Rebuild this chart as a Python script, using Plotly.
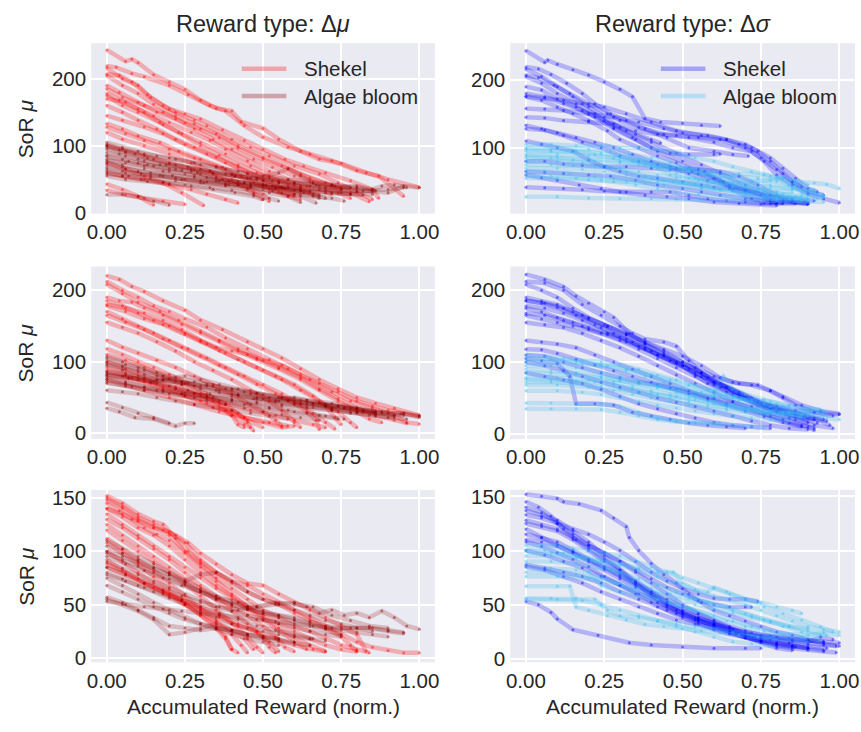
import plotly.graph_objects as go

# Each trajectory is a list of (accumulated reward (norm.), SoR mu) points.

# ---------- reward type: delta mu ----------
shekel_mu_r1 = [
    [(0,243),(0.06,226),(0.08,229),(0.1,224),(0.15,206),(0.2,195),(0.25,184),(0.3,168),(0.35,156),(0.4,152),(0.43,136),(0.5,126),(0.55,110),(0.62,92),(0.68,80),(0.75,74),(0.83,60),(0.9,50),(1.0,38)],
    [(0,219),(0.03,217),(0.08,208),(0.12,203),(0.2,190),(0.26,176),(0.33,160),(0.38,152),(0.44,130),(0.5,113),(0.58,98),(0.65,88),(0.72,78),(0.8,63),(0.87,55),(0.95,25)],
    [(0,216),(0.05,200),(0.1,190),(0.14,172),(0.2,155),(0.25,148),(0.3,140),(0.37,124),(0.44,108),(0.5,95),(0.57,80),(0.63,70),(0.7,60),(0.78,48),(0.85,35),(0.87,22)],
    [(0,207),(0.04,205),(0.08,195),(0.13,176),(0.18,160),(0.22,150),(0.28,138),(0.32,130),(0.4,110),(0.46,98),(0.52,85),(0.6,70),(0.68,58),(0.74,45),(0.8,32),(0.85,20)],
    [(0,205),(0.05,190),(0.1,178),(0.15,162),(0.22,145),(0.28,133),(0.35,118),(0.42,100),(0.5,83),(0.58,66),(0.65,52),(0.72,40),(0.78,30),(0.84,17)],
    [(0,190),(0.04,180),(0.1,165),(0.16,150),(0.22,140),(0.28,125),(0.34,110),(0.4,95),(0.47,80),(0.53,68),(0.6,55),(0.66,45),(0.74,30),(0.78,22)],
    [(0,185),(0.05,172),(0.12,160),(0.18,150),(0.25,134),(0.3,125),(0.36,112),(0.42,97),(0.5,80),(0.56,70),(0.62,58),(0.7,45),(0.75,35)],
    [(0,178),(0.04,168),(0.1,155),(0.15,145),(0.2,135),(0.27,120),(0.33,108),(0.38,95),(0.45,78),(0.52,62),(0.58,50),(0.64,40),(0.72,28)],
    [(0,175),(0.05,160),(0.1,150),(0.17,135),(0.23,120),(0.3,100),(0.36,86),(0.42,72),(0.48,60),(0.55,48),(0.62,38),(0.68,27)],
    [(0,170),(0.06,165),(0.12,150),(0.18,132),(0.24,118),(0.3,105),(0.38,88),(0.46,70),(0.52,55),(0.58,42),(0.65,30)],
    [(0,160),(0.05,150),(0.1,138),(0.16,125),(0.22,110),(0.28,98),(0.35,83),(0.42,68),(0.5,50),(0.56,38),(0.62,28)],
    [(0,145),(0.05,138),(0.12,128),(0.18,118),(0.25,102),(0.32,88),(0.38,75),(0.45,60),(0.5,48),(0.55,38),(0.6,28)],
    [(0,133),(0.05,125),(0.1,115),(0.17,105),(0.23,92),(0.3,80),(0.37,68),(0.43,55),(0.5,42),(0.55,32),(0.6,25)],
    [(0,128),(0.06,118),(0.12,108),(0.2,95),(0.28,82),(0.35,70),(0.4,58),(0.47,45),(0.52,35),(0.58,25),(0.62,20)],
    [(0,120),(0.05,110),(0.12,100),(0.2,88),(0.27,75),(0.33,62),(0.4,50),(0.45,38),(0.5,28),(0.52,17)],
    [(0,100),(0.06,92),(0.12,85),(0.2,75),(0.28,65),(0.35,55),(0.42,42),(0.47,30),(0.5,20)],
    [(0,75),(0.06,65),(0.12,55),(0.18,45),(0.24,30),(0.31,11)],
    [(0,60),(0.05,55),(0.12,50),(0.2,42),(0.27,35),(0.32,28),(0.38,20),(0.42,15)],
    [(0,43),(0.05,35),(0.1,25),(0.15,12)],
    [(0,34),(0.06,27),(0.12,22),(0.18,18),(0.25,13)],
]
algae_mu_r1 = [
    [(0,105),(0.05,98),(0.1,92),(0.16,85),(0.22,80),(0.3,72),(0.38,65),(0.45,58),(0.52,52),(0.6,45),(0.68,40),(0.75,35),(0.82,33),(0.9,30),(0.95,40),(1.0,38)],
    [(0,102),(0.05,95),(0.12,88),(0.2,82),(0.28,75),(0.35,68),(0.42,62),(0.5,55),(0.58,50),(0.65,47),(0.72,42),(0.8,38),(0.86,33)],
    [(0,98),(0.06,90),(0.13,82),(0.2,73),(0.27,66),(0.34,60),(0.41,55),(0.48,50),(0.55,45),(0.62,40),(0.68,35),(0.75,30),(0.82,27)],
    [(0,95),(0.04,88),(0.1,80),(0.17,72),(0.24,64),(0.3,58),(0.37,50),(0.44,45),(0.5,40),(0.57,37),(0.63,30),(0.68,22)],
    [(0,90),(0.06,85),(0.12,78),(0.19,72),(0.26,68),(0.33,63),(0.4,57),(0.46,52),(0.53,48),(0.6,45),(0.67,42),(0.73,40),(0.8,36),(0.85,32)],
    [(0,86),(0.05,80),(0.1,74),(0.15,70),(0.22,65),(0.29,60),(0.35,52),(0.42,47),(0.5,43),(0.56,38),(0.62,33),(0.68,25)],
    [(0,84),(0.07,77),(0.13,72),(0.2,66),(0.27,62),(0.34,58),(0.41,55),(0.48,52),(0.55,60),(0.58,66),(0.62,55),(0.66,45),(0.72,42),(0.78,38)],
    [(0,80),(0.05,72),(0.12,66),(0.18,62),(0.25,58),(0.32,53),(0.39,48),(0.46,44),(0.53,40),(0.6,34),(0.66,28),(0.7,22)],
    [(0,78),(0.06,75),(0.12,70),(0.2,62),(0.28,56),(0.35,48),(0.42,42),(0.5,35),(0.56,30),(0.62,25),(0.67,15)],
    [(0,75),(0.05,68),(0.1,62),(0.17,56),(0.24,50),(0.31,45),(0.38,40),(0.45,35),(0.52,30),(0.58,25),(0.62,16)],
    [(0,72),(0.06,66),(0.14,60),(0.21,56),(0.28,53),(0.36,48),(0.44,45),(0.51,42),(0.58,38),(0.65,33),(0.72,30),(0.78,28)],
    [(0,68),(0.05,62),(0.11,58),(0.18,55),(0.25,50),(0.32,46),(0.39,42),(0.46,38),(0.53,33),(0.6,28),(0.66,25),(0.72,22),(0.76,18)],
    [(0,65),(0.06,60),(0.14,56),(0.22,52),(0.3,48),(0.38,44),(0.46,40),(0.54,36),(0.62,33),(0.7,30),(0.78,28),(0.85,28)],
    [(0,62),(0.05,55),(0.11,50),(0.18,46),(0.25,42),(0.33,38),(0.4,34),(0.47,28),(0.52,22),(0.55,18)],
    [(0,58),(0.07,55),(0.14,52),(0.22,48),(0.3,45),(0.38,42),(0.46,40),(0.54,38),(0.62,36),(0.7,34),(0.8,32),(0.9,35),(0.95,38)],
    [(0,55),(0.06,50),(0.13,47),(0.2,44),(0.27,40),(0.34,35),(0.41,30),(0.47,25),(0.5,20)],
    [(0,27),(0.05,28),(0.1,24),(0.15,18),(0.2,12)],
    [(0,100),(0.04,94),(0.09,88),(0.15,80),(0.22,72),(0.3,65),(0.38,58),(0.45,52),(0.5,48),(0.55,45),(0.6,42),(0.65,40),(0.7,38),(0.75,38),(0.8,40),(0.85,35),(0.88,40),(0.92,42),(0.96,38)],
]

shekel_mu_r2 = [
    [(0,220),(0.04,215),(0.08,205),(0.12,198),(0.18,185),(0.25,172),(0.3,158),(0.37,145),(0.45,128),(0.5,118),(0.56,105),(0.62,90),(0.68,75),(0.74,62),(0.8,50),(0.86,42),(0.92,35),(1.0,25)],
    [(0,212),(0.05,200),(0.1,190),(0.15,178),(0.2,170),(0.25,160),(0.32,148),(0.38,133),(0.45,118),(0.52,103),(0.58,90),(0.65,75),(0.72,58),(0.78,45),(0.85,35),(0.92,25),(0.96,15),(1.0,13)],
    [(0,208),(0.05,195),(0.1,183),(0.17,170),(0.23,158),(0.3,143),(0.36,130),(0.42,118),(0.48,105),(0.55,92),(0.62,78),(0.68,62),(0.74,48),(0.8,35),(0.86,25),(0.92,18),(0.96,14)],
    [(0,190),(0.04,185),(0.08,183),(0.12,175),(0.18,165),(0.24,152),(0.3,140),(0.36,128),(0.42,115),(0.48,103),(0.55,90),(0.62,75),(0.68,60),(0.74,45),(0.8,30),(0.84,20),(0.88,15)],
    [(0,185),(0.05,178),(0.1,168),(0.15,158),(0.2,150),(0.25,140),(0.32,125),(0.38,112),(0.44,100),(0.5,88),(0.56,75),(0.62,60),(0.68,45),(0.74,30),(0.78,15),(0.8,8)],
    [(0,180),(0.06,175),(0.12,168),(0.18,158),(0.24,145),(0.3,130),(0.35,120),(0.4,115),(0.45,110),(0.5,102),(0.56,95),(0.62,82),(0.68,70),(0.74,58),(0.8,45),(0.85,38),(0.9,32),(0.95,28),(1.0,24)],
    [(0,178),(0.06,170),(0.12,160),(0.18,152),(0.25,138),(0.3,128),(0.36,115),(0.42,103),(0.48,92),(0.54,80),(0.6,68),(0.66,52),(0.7,38),(0.73,22),(0.75,12)],
    [(0,170),(0.05,160),(0.1,150),(0.15,140),(0.2,130),(0.26,118),(0.32,105),(0.38,92),(0.44,80),(0.5,68),(0.56,55),(0.62,40),(0.66,28),(0.7,15),(0.73,6)],
    [(0,165),(0.06,155),(0.12,145),(0.18,132),(0.24,120),(0.3,108),(0.36,95),(0.42,82),(0.48,68),(0.54,55),(0.6,42),(0.64,30),(0.67,18),(0.68,5)],
    [(0,155),(0.05,148),(0.1,140),(0.16,128),(0.22,115),(0.28,100),(0.34,88),(0.4,75),(0.46,60),(0.52,45),(0.56,32),(0.6,15),(0.62,8)],
    [(0,130),(0.05,120),(0.1,112),(0.16,102),(0.22,92),(0.28,80),(0.34,68),(0.4,55),(0.45,42),(0.5,30),(0.54,18),(0.56,10)],
    [(0,118),(0.05,110),(0.1,100),(0.15,92),(0.2,82),(0.26,70),(0.32,55),(0.38,40),(0.42,28),(0.45,15),(0.47,3)],
    [(0,110),(0.06,102),(0.12,92),(0.18,80),(0.24,68),(0.3,55),(0.36,40),(0.4,25),(0.42,12),(0.44,8)],
    [(0,100),(0.05,92),(0.1,85),(0.16,75),(0.22,65),(0.28,55),(0.34,45),(0.4,32),(0.45,18),(0.5,8)],
    [(0,92),(0.06,85),(0.12,75),(0.18,65),(0.24,55),(0.3,45),(0.36,35),(0.4,25),(0.44,12),(0.46,8)],
    [(0,88),(0.06,80),(0.12,72),(0.18,62),(0.25,52),(0.32,42),(0.38,32),(0.44,22),(0.5,15),(0.56,8),(0.6,10)],
    [(0,82),(0.07,76),(0.14,70),(0.22,62),(0.3,52),(0.38,42),(0.46,32),(0.54,25),(0.6,18),(0.66,12),(0.7,8)],
    [(0,75),(0.06,68),(0.12,60),(0.2,50),(0.28,40),(0.36,30),(0.44,22),(0.52,15),(0.58,10)],
]
algae_mu_r2 = [
    [(0,107),(0.05,100),(0.1,92),(0.16,85),(0.22,78),(0.28,72),(0.34,66),(0.4,60),(0.46,55),(0.52,50),(0.58,46),(0.64,42),(0.7,38),(0.76,35),(0.82,32),(0.88,30),(0.94,27),(1.0,24)],
    [(0,104),(0.06,96),(0.12,88),(0.18,80),(0.24,72),(0.3,66),(0.36,60),(0.42,54),(0.48,48),(0.54,44),(0.6,40),(0.66,36),(0.72,32),(0.78,28),(0.84,25),(0.9,22),(0.96,20)],
    [(0,100),(0.05,94),(0.1,88),(0.16,80),(0.22,73),(0.28,66),(0.35,60),(0.42,54),(0.48,50),(0.55,45),(0.62,42),(0.7,38),(0.78,35),(0.85,30),(0.92,25)],
    [(0,97),(0.06,90),(0.12,82),(0.18,75),(0.24,68),(0.3,62),(0.36,57),(0.42,52),(0.5,48),(0.58,45),(0.66,42),(0.74,38),(0.8,34),(0.86,30)],
    [(0,95),(0.05,88),(0.1,80),(0.16,70),(0.22,62),(0.28,56),(0.34,50),(0.4,45),(0.46,40),(0.52,36),(0.58,32),(0.64,28),(0.7,24),(0.76,20)],
    [(0,86),(0.06,82),(0.12,78),(0.18,74),(0.25,70),(0.32,66),(0.38,62),(0.44,58),(0.5,54),(0.56,50),(0.62,46),(0.68,42),(0.74,38),(0.8,34),(0.86,28)],
    [(0,85),(0.05,80),(0.1,75),(0.15,72),(0.2,76),(0.25,80),(0.3,75),(0.36,68),(0.42,62),(0.48,56),(0.55,50),(0.6,45),(0.66,40),(0.72,35),(0.78,30)],
    [(0,82),(0.07,78),(0.14,72),(0.2,66),(0.26,60),(0.33,55),(0.4,52),(0.47,48),(0.54,46),(0.6,50),(0.64,46),(0.7,40),(0.76,36),(0.82,30),(0.86,27)],
    [(0,80),(0.08,77),(0.16,74),(0.24,72),(0.32,68),(0.4,62),(0.48,56),(0.56,50),(0.64,46),(0.72,42),(0.8,36),(0.86,30),(0.9,28),(0.95,28),(1.0,22)],
    [(0,78),(0.06,72),(0.12,65),(0.18,58),(0.25,52),(0.32,46),(0.38,40),(0.44,35),(0.5,30),(0.56,26),(0.62,22),(0.68,18)],
    [(0,75),(0.06,70),(0.12,64),(0.18,60),(0.25,56),(0.32,52),(0.4,48),(0.48,44),(0.56,40),(0.64,38),(0.72,35),(0.8,30),(0.88,28),(0.95,25)],
    [(0,72),(0.06,66),(0.12,60),(0.2,55),(0.28,50),(0.36,45),(0.44,40),(0.52,35),(0.6,30),(0.68,25),(0.74,20)],
    [(0,70),(0.08,65),(0.16,60),(0.24,55),(0.32,50),(0.4,46),(0.48,42),(0.56,38),(0.64,35),(0.72,32),(0.8,28),(0.86,24),(0.92,22)],
    [(0,60),(0.05,58),(0.1,55),(0.16,50),(0.22,45),(0.28,40),(0.34,36),(0.4,32),(0.46,28),(0.52,24),(0.58,20)],
    [(0,43),(0.05,36),(0.1,28),(0.15,22),(0.2,14)],
    [(0,35),(0.04,30),(0.09,22),(0.15,20),(0.22,10),(0.25,14),(0.28,14)],
]

shekel_mu_r3 = [
    [(0,152),(0.05,145),(0.1,135),(0.15,128),(0.18,125),(0.22,112),(0.26,100),(0.3,90),(0.35,80),(0.4,72),(0.45,68),(0.5,60),(0.55,52),(0.6,45),(0.65,38),(0.7,30),(0.75,22),(0.8,15),(0.85,10),(0.9,7),(0.95,5),(1.0,5)],
    [(0,150),(0.05,142),(0.1,132),(0.15,125),(0.2,118),(0.25,108),(0.3,92),(0.35,80),(0.4,70),(0.45,62),(0.5,55),(0.55,50),(0.6,42),(0.65,35),(0.7,28),(0.75,20),(0.78,12),(0.8,6)],
    [(0,148),(0.05,140),(0.1,130),(0.15,122),(0.2,115),(0.25,100),(0.3,88),(0.35,75),(0.4,65),(0.45,55),(0.5,45),(0.55,38),(0.6,30),(0.65,25),(0.7,18),(0.75,12),(0.8,8),(0.84,5)],
    [(0,145),(0.04,138),(0.08,130),(0.12,122),(0.16,116),(0.2,110),(0.25,98),(0.3,85),(0.35,72),(0.4,60),(0.45,48),(0.5,40),(0.55,32),(0.6,25),(0.65,18),(0.7,12),(0.75,8),(0.8,6)],
    [(0,140),(0.05,135),(0.1,128),(0.15,122),(0.18,120),(0.22,115),(0.26,108),(0.3,98),(0.35,88),(0.4,78),(0.45,70),(0.5,68),(0.55,60),(0.6,52),(0.65,45),(0.7,38),(0.75,30),(0.8,22),(0.83,6)],
    [(0,140),(0.05,132),(0.1,122),(0.15,115),(0.2,105),(0.25,92),(0.3,80),(0.35,68),(0.4,58),(0.45,48),(0.5,38),(0.55,28),(0.6,20),(0.65,12),(0.7,6)],
    [(0,135),(0.05,125),(0.1,115),(0.15,105),(0.2,95),(0.25,85),(0.3,75),(0.35,65),(0.4,55),(0.45,45),(0.5,35),(0.55,25),(0.6,15),(0.64,8)],
    [(0,130),(0.05,122),(0.1,112),(0.15,102),(0.2,92),(0.25,80),(0.3,68),(0.35,58),(0.4,48),(0.45,40),(0.5,30),(0.54,20),(0.57,10),(0.6,6)],
    [(0,125),(0.05,115),(0.1,105),(0.15,95),(0.2,85),(0.25,74),(0.3,64),(0.35,54),(0.4,44),(0.45,32),(0.5,20),(0.52,10),(0.54,5)],
    [(0,120),(0.05,110),(0.1,100),(0.15,90),(0.2,80),(0.25,70),(0.3,58),(0.35,45),(0.4,32),(0.45,20),(0.48,10),(0.5,5)],
    [(0,112),(0.05,102),(0.1,92),(0.15,82),(0.2,70),(0.25,58),(0.3,46),(0.35,35),(0.4,22),(0.43,12),(0.45,5)],
    [(0,108),(0.05,98),(0.1,88),(0.15,76),(0.2,64),(0.25,52),(0.3,40),(0.35,28),(0.38,18),(0.4,8),(0.42,5)],
    [(0,100),(0.05,90),(0.1,80),(0.15,70),(0.2,60),(0.25,50),(0.3,40),(0.35,30),(0.38,20),(0.4,8)],
    [(0,92),(0.05,82),(0.1,74),(0.15,66),(0.2,58),(0.25,50),(0.3,42),(0.35,34),(0.4,26),(0.44,18),(0.47,8)],
    [(0,88),(0.06,80),(0.12,70),(0.18,62),(0.24,55),(0.3,48),(0.36,40),(0.42,32),(0.48,24),(0.52,15),(0.55,6)],
    [(0,85),(0.06,78),(0.12,70),(0.18,62),(0.24,54),(0.3,46),(0.36,38),(0.42,30),(0.48,25),(0.54,18),(0.6,12),(0.66,8),(0.7,6)],
]
algae_mu_r3 = [
    [(0,110),(0.05,102),(0.1,95),(0.15,88),(0.2,80),(0.25,72),(0.3,65),(0.35,58),(0.4,52),(0.45,48),(0.5,44),(0.55,40),(0.6,36),(0.65,32),(0.7,28),(0.75,26),(0.8,24),(0.85,22),(0.9,20)],
    [(0,105),(0.05,98),(0.1,92),(0.15,85),(0.2,78),(0.25,70),(0.3,62),(0.35,55),(0.4,50),(0.45,46),(0.5,42),(0.55,38),(0.6,35),(0.65,30),(0.7,27),(0.75,22)],
    [(0,100),(0.05,95),(0.1,90),(0.15,84),(0.2,78),(0.25,72),(0.3,78),(0.35,80),(0.4,72),(0.45,62),(0.5,55),(0.55,50),(0.6,45),(0.65,40),(0.7,35),(0.75,32),(0.8,28),(0.85,25)],
    [(0,98),(0.05,92),(0.1,86),(0.15,80),(0.2,74),(0.25,68),(0.3,62),(0.35,56),(0.4,50),(0.45,46),(0.5,42),(0.55,40),(0.6,38),(0.65,34),(0.7,30),(0.75,28),(0.8,28),(0.85,28),(0.9,26),(0.95,24)],
    [(0,95),(0.06,88),(0.12,82),(0.18,75),(0.24,68),(0.3,62),(0.36,56),(0.42,52),(0.48,48),(0.54,50),(0.6,52),(0.64,48),(0.68,42),(0.72,45),(0.76,40),(0.8,42),(0.84,38),(0.88,44),(0.92,38),(0.96,30),(1.0,27)],
    [(0,90),(0.05,84),(0.1,78),(0.15,72),(0.2,66),(0.25,60),(0.3,54),(0.35,48),(0.4,44),(0.45,40),(0.5,36),(0.55,32),(0.6,28),(0.65,25),(0.7,22),(0.75,20)],
    [(0,85),(0.06,78),(0.12,70),(0.18,64),(0.24,58),(0.3,52),(0.36,48),(0.42,45),(0.48,48),(0.54,52),(0.6,50),(0.66,48),(0.72,40),(0.78,35),(0.84,30),(0.9,28)],
    [(0,80),(0.05,74),(0.1,68),(0.15,62),(0.2,56),(0.25,50),(0.3,44),(0.35,38),(0.4,32),(0.45,28),(0.5,25),(0.55,22),(0.6,20),(0.65,18),(0.7,16)],
    [(0,78),(0.06,72),(0.12,66),(0.18,60),(0.24,54),(0.3,48),(0.36,42),(0.42,36),(0.48,30),(0.54,26),(0.6,22),(0.66,18)],
    [(0,75),(0.05,68),(0.1,60),(0.15,52),(0.2,45),(0.25,38),(0.3,32),(0.35,27),(0.4,22),(0.45,18),(0.5,15),(0.55,12)],
    [(0,68),(0.05,62),(0.1,55),(0.15,48),(0.2,42),(0.25,36),(0.3,32),(0.35,28),(0.4,25),(0.45,22),(0.5,20),(0.55,18),(0.6,15)],
    [(0,57),(0.05,52),(0.1,45),(0.15,38),(0.2,30),(0.25,28),(0.3,26),(0.35,28),(0.4,26),(0.45,22),(0.5,20),(0.55,18)],
    [(0,55),(0.05,50),(0.1,44),(0.15,36),(0.2,22),(0.25,24),(0.3,28),(0.35,32),(0.4,26),(0.45,22),(0.5,18),(0.55,16),(0.6,14),(0.65,12)],
    [(0,53),(0.06,50),(0.12,48),(0.18,46),(0.24,44),(0.3,42),(0.36,40),(0.42,38),(0.48,36),(0.54,34),(0.6,32),(0.66,30),(0.72,28),(0.78,28),(0.84,28),(0.9,25),(0.95,23)],
]

# ---------- reward type: delta sigma ----------
shekel_sigma_r1 = [
    [(0,243),(0.06,226),(0.07,229),(0.1,223),(0.15,215),(0.2,207),(0.25,197),(0.3,186),(0.34,175),(0.38,143),(0.43,138),(0.5,136),(0.56,133),(0.62,132)],
    [(0,219),(0.04,216),(0.08,208),(0.13,195),(0.18,180),(0.22,165),(0.27,150),(0.32,140),(0.38,128),(0.45,115),(0.52,100),(0.6,95),(0.66,90),(0.71,88)],
    [(0,216),(0.05,205),(0.1,190),(0.15,175),(0.2,160),(0.25,145),(0.3,130),(0.35,120),(0.4,112),(0.43,107)],
    [(0,207),(0.04,203),(0.09,192),(0.14,180),(0.2,165),(0.26,150),(0.3,140),(0.36,130),(0.44,120),(0.52,115),(0.6,108),(0.66,100),(0.72,95),(0.76,80),(0.8,60),(0.85,45),(0.9,32),(0.95,25),(1.0,19)],
    [(0,205),(0.05,195),(0.1,180),(0.16,165),(0.22,150),(0.28,130),(0.34,115),(0.4,100),(0.46,92),(0.52,90),(0.6,90),(0.62,91)],
    [(0,190),(0.05,185),(0.1,172),(0.16,160),(0.22,145),(0.28,128),(0.35,112),(0.42,95),(0.5,80),(0.57,65),(0.63,50),(0.7,38),(0.78,28),(0.85,25),(0.92,22)],
    [(0,180),(0.06,175),(0.12,165),(0.18,155),(0.25,140),(0.32,125),(0.4,108),(0.48,92),(0.56,75),(0.62,62),(0.7,45),(0.78,30),(0.85,20),(0.9,17)],
    [(0,176),(0.06,173),(0.12,170),(0.18,165),(0.25,160),(0.32,150),(0.4,138),(0.48,125),(0.56,118),(0.64,112),(0.7,105),(0.74,95),(0.78,80),(0.82,62),(0.85,50),(0.9,35),(0.95,30)],
    [(0,175),(0.05,170),(0.1,160),(0.15,150),(0.2,140),(0.26,125),(0.3,112),(0.36,100),(0.42,88),(0.48,78),(0.52,70),(0.55,62),(0.6,55),(0.65,45),(0.7,38),(0.75,30),(0.8,18)],
    [(0,158),(0.06,157),(0.12,155),(0.2,150),(0.28,145),(0.36,138),(0.44,128),(0.5,122),(0.58,118),(0.64,112),(0.68,105),(0.72,100),(0.78,85),(0.82,70),(0.86,55),(0.9,40),(0.93,35)],
    [(0,145),(0.06,144),(0.12,140),(0.2,138),(0.28,135),(0.35,125),(0.42,120),(0.48,118),(0.55,115),(0.62,112),(0.7,100),(0.75,85),(0.8,68),(0.85,50),(0.88,42)],
    [(0,133),(0.05,128),(0.1,122),(0.16,115),(0.22,108),(0.28,100),(0.34,90),(0.4,80),(0.46,72),(0.52,62),(0.58,52),(0.64,45),(0.7,38),(0.76,30),(0.82,23),(0.9,18)],
    [(0,128),(0.06,126),(0.12,118),(0.18,108),(0.24,100),(0.3,88),(0.36,80),(0.42,75),(0.48,70),(0.55,68),(0.62,65),(0.68,58),(0.74,45),(0.8,30),(0.85,22)],
    [(0,110),(0.05,105),(0.1,100),(0.15,95),(0.2,82),(0.25,72),(0.3,65),(0.36,58),(0.42,55),(0.5,50),(0.56,45),(0.6,42),(0.65,40),(0.7,35),(0.78,22),(0.82,18)],
    [(0,80),(0.06,80),(0.12,76),(0.18,74),(0.25,72),(0.32,72),(0.4,70),(0.46,68),(0.53,65),(0.58,60),(0.62,50),(0.66,38),(0.72,25),(0.78,18),(0.86,18)],
    [(0,65),(0.06,64),(0.12,62),(0.2,60),(0.27,58),(0.35,52),(0.42,45),(0.5,40),(0.56,35),(0.62,30),(0.7,25),(0.8,20),(0.9,18)],
    [(0,60),(0.05,56),(0.1,52),(0.17,45),(0.24,40),(0.3,35),(0.38,30),(0.45,28),(0.52,25),(0.6,20),(0.68,18),(0.75,17),(0.8,15)],
    [(0,42),(0.06,41),(0.12,40),(0.18,38),(0.25,36),(0.32,35),(0.4,35),(0.46,35),(0.52,30),(0.58,25),(0.64,22),(0.7,20),(0.76,18),(0.82,20),(0.9,20)],
]
algae_sigma_r1 = [
    [(0,105),(0.08,105),(0.16,103),(0.24,103),(0.3,100),(0.36,100),(0.42,97),(0.48,92),(0.54,85),(0.6,80),(0.66,72),(0.72,65),(0.78,58),(0.82,55),(0.86,50),(0.92,48),(0.96,46),(1.0,40)],
    [(0,100),(0.1,100),(0.2,98),(0.27,95),(0.33,90),(0.4,85),(0.46,78),(0.52,70),(0.58,62),(0.65,55),(0.72,50),(0.78,45),(0.85,40),(0.9,35),(0.95,30)],
    [(0,98),(0.08,97),(0.16,95),(0.24,92),(0.3,88),(0.36,82),(0.42,72),(0.48,62),(0.54,55),(0.6,50),(0.66,48),(0.72,50),(0.78,52),(0.82,56),(0.86,52),(0.9,45)],
    [(0,95),(0.08,95),(0.15,94),(0.22,90),(0.28,85),(0.34,80),(0.4,75),(0.46,70),(0.52,65),(0.58,60),(0.66,58),(0.74,55),(0.8,50),(0.86,45),(0.92,35),(0.95,28)],
    [(0,90),(0.1,90),(0.2,88),(0.3,85),(0.38,80),(0.45,75),(0.5,68),(0.56,62),(0.62,55),(0.68,48),(0.74,40),(0.8,32),(0.86,28),(0.9,25)],
    [(0,88),(0.1,86),(0.2,83),(0.3,80),(0.36,76),(0.42,70),(0.46,60),(0.52,55),(0.58,50),(0.64,45),(0.7,40),(0.76,36),(0.82,32),(0.88,30),(0.95,28)],
    [(0,85),(0.08,85),(0.15,82),(0.22,80),(0.3,78),(0.38,75),(0.45,72),(0.52,68),(0.6,65),(0.68,62),(0.76,60),(0.8,55),(0.84,45),(0.88,35),(0.93,25)],
    [(0,80),(0.1,80),(0.18,78),(0.26,72),(0.32,65),(0.38,58),(0.44,52),(0.5,48),(0.56,42),(0.62,38),(0.7,32),(0.78,28),(0.84,25),(0.9,22)],
    [(0,75),(0.08,75),(0.15,74),(0.22,72),(0.3,70),(0.36,65),(0.42,60),(0.48,56),(0.55,52),(0.62,48),(0.7,45),(0.78,42),(0.85,40),(0.92,38)],
    [(0,70),(0.1,70),(0.18,68),(0.25,65),(0.32,60),(0.4,55),(0.47,50),(0.54,45),(0.6,40),(0.66,36),(0.72,32),(0.8,28),(0.88,25)],
    [(0,65),(0.06,65),(0.14,62),(0.22,58),(0.28,55),(0.35,52),(0.42,50),(0.5,48),(0.58,46),(0.66,42),(0.74,38),(0.8,36),(0.85,35)],
    [(0,60),(0.08,58),(0.16,55),(0.24,52),(0.32,50),(0.38,48),(0.44,45),(0.5,42),(0.56,40),(0.62,38),(0.7,35),(0.76,30),(0.84,28),(0.9,25)],
    [(0,55),(0.1,55),(0.2,53),(0.28,50),(0.35,45),(0.42,40),(0.48,35),(0.55,32),(0.62,30),(0.7,28),(0.8,25),(0.88,22)],
    [(0,28),(0.1,28),(0.2,26),(0.3,25),(0.4,25),(0.48,24),(0.56,23),(0.64,22),(0.72,22),(0.8,22),(0.9,20),(0.95,20)],
]

shekel_sigma_r2 = [
    [(0,222),(0.06,215),(0.12,205),(0.16,192),(0.2,182),(0.25,170),(0.28,162),(0.33,140),(0.38,125),(0.44,110),(0.5,95),(0.54,82),(0.58,70),(0.64,58),(0.7,48),(0.75,42),(0.8,38),(0.86,33),(0.92,30),(1.0,27)],
    [(0,212),(0.06,210),(0.12,200),(0.18,180),(0.24,165),(0.3,150),(0.34,140),(0.38,132),(0.44,128),(0.48,122),(0.52,102),(0.56,85),(0.6,72),(0.66,62),(0.72,50),(0.78,40),(0.84,32),(0.9,25),(0.95,20)],
    [(0,208),(0.05,200),(0.1,190),(0.15,175),(0.2,162),(0.26,150),(0.32,138),(0.38,125),(0.44,112),(0.5,100),(0.56,85),(0.62,70),(0.68,58),(0.74,45),(0.8,35),(0.86,28),(0.92,22),(0.97,12)],
    [(0,190),(0.05,185),(0.1,180),(0.15,170),(0.2,160),(0.26,150),(0.32,140),(0.38,128),(0.44,115),(0.5,100),(0.56,85),(0.62,70),(0.68,55),(0.74,42),(0.8,32),(0.86,25),(0.92,20)],
    [(0,186),(0.05,182),(0.1,176),(0.16,165),(0.22,152),(0.28,140),(0.34,128),(0.4,115),(0.46,102),(0.52,90),(0.58,78),(0.64,65),(0.7,52),(0.76,40),(0.82,30),(0.88,22),(0.93,15)],
    [(0,185),(0.06,182),(0.12,175),(0.18,165),(0.25,152),(0.32,138),(0.38,128),(0.44,118),(0.5,108),(0.56,95),(0.62,78),(0.68,70),(0.74,68),(0.78,60),(0.82,52),(0.88,40),(0.94,32),(1.0,28)],
    [(0,178),(0.06,175),(0.12,168),(0.18,158),(0.24,148),(0.3,135),(0.36,122),(0.42,110),(0.48,98),(0.54,85),(0.6,72),(0.66,60),(0.72,48),(0.78,38),(0.84,30),(0.9,25)],
    [(0,175),(0.05,170),(0.1,162),(0.15,155),(0.2,148),(0.26,140),(0.32,132),(0.38,120),(0.42,110),(0.48,100),(0.54,92),(0.6,80),(0.66,72),(0.72,68),(0.78,60),(0.82,50),(0.86,40),(0.92,30),(0.98,25)],
    [(0,168),(0.06,165),(0.12,158),(0.18,150),(0.24,140),(0.3,130),(0.36,118),(0.42,105),(0.48,92),(0.54,80),(0.6,68),(0.66,55),(0.72,45),(0.78,35),(0.84,28),(0.9,22),(0.96,18)],
    [(0,165),(0.05,160),(0.1,155),(0.15,150),(0.2,145),(0.26,138),(0.32,128),(0.38,118),(0.44,108),(0.5,95),(0.56,80),(0.62,65),(0.68,52),(0.74,40),(0.8,30),(0.86,20),(0.92,12),(0.98,8)],
    [(0,155),(0.06,152),(0.12,148),(0.18,140),(0.24,130),(0.3,120),(0.36,108),(0.42,95),(0.48,82),(0.54,70),(0.6,58),(0.66,45),(0.72,35),(0.78,25),(0.84,15),(0.9,10),(0.92,5)],
    [(0,130),(0.05,128),(0.1,125),(0.16,120),(0.22,110),(0.28,100),(0.34,90),(0.4,80),(0.46,70),(0.52,60),(0.58,50),(0.64,42),(0.7,35),(0.76,28),(0.82,20),(0.88,12),(0.92,8)],
    [(0,118),(0.05,117),(0.1,112),(0.16,104),(0.22,96),(0.28,88),(0.34,80),(0.4,72),(0.46,64),(0.52,56),(0.58,48),(0.64,40),(0.7,32),(0.76,24),(0.82,16),(0.88,10)],
    [(0,110),(0.06,108),(0.12,100),(0.18,92),(0.24,85),(0.3,78),(0.36,72),(0.42,68),(0.48,62),(0.54,56),(0.6,50),(0.66,45),(0.72,38),(0.78,30),(0.84,22),(0.9,16)],
    [(0,105),(0.05,102),(0.1,98),(0.14,80),(0.16,42),(0.22,42),(0.28,40),(0.34,30),(0.4,25),(0.46,20),(0.52,15),(0.58,12),(0.64,10),(0.7,8)],
    [(0,100),(0.06,95),(0.12,88),(0.18,80),(0.24,72),(0.3,65),(0.36,58),(0.42,50),(0.48,44),(0.54,38),(0.6,32),(0.66,25),(0.72,18),(0.78,12),(0.84,8),(0.9,6)],
    [(0,85),(0.06,80),(0.12,75),(0.18,70),(0.24,62),(0.3,52),(0.36,42),(0.42,35),(0.48,28),(0.54,22),(0.6,16),(0.66,12),(0.72,10),(0.78,8)],
]
algae_sigma_r2 = [
    [(0,110),(0.06,108),(0.12,105),(0.18,102),(0.24,100),(0.3,96),(0.36,90),(0.42,82),(0.48,75),(0.54,68),(0.6,60),(0.66,52),(0.72,45),(0.78,38),(0.84,32),(0.9,28),(0.95,26)],
    [(0,105),(0.08,104),(0.16,100),(0.24,96),(0.32,90),(0.4,82),(0.46,75),(0.52,68),(0.58,62),(0.64,55),(0.7,48),(0.76,42),(0.82,38),(0.88,35),(0.94,34)],
    [(0,100),(0.1,100),(0.18,98),(0.26,94),(0.32,88),(0.38,80),(0.44,72),(0.5,65),(0.56,58),(0.62,52),(0.68,46),(0.74,40),(0.8,35)],
    [(0,95),(0.08,95),(0.16,92),(0.24,86),(0.3,80),(0.36,74),(0.42,68),(0.48,60),(0.54,52),(0.6,45),(0.66,40),(0.72,35),(0.78,30),(0.84,28),(0.9,25)],
    [(0,90),(0.08,88),(0.16,85),(0.24,80),(0.3,75),(0.36,70),(0.42,64),(0.48,58),(0.54,54),(0.6,52),(0.66,50),(0.72,48),(0.78,45),(0.84,40),(0.9,35),(0.96,30)],
    [(0,85),(0.08,84),(0.16,82),(0.24,78),(0.3,74),(0.36,70),(0.42,66),(0.48,62),(0.54,58),(0.6,55),(0.63,80),(0.66,62),(0.7,55),(0.76,48),(0.8,42),(0.84,38)],
    [(0,78),(0.1,78),(0.2,75),(0.28,72),(0.34,66),(0.4,60),(0.46,55),(0.52,50),(0.58,45),(0.64,40),(0.7,35),(0.76,30),(0.82,28),(0.9,25),(0.96,22),(1.0,20)],
    [(0,76),(0.08,75),(0.16,74),(0.22,72),(0.28,68),(0.34,62),(0.4,56),(0.46,50),(0.52,45),(0.58,40),(0.64,36),(0.7,34),(0.76,32),(0.82,30),(0.88,26)],
    [(0,72),(0.08,72),(0.16,70),(0.24,66),(0.3,62),(0.36,58),(0.42,55),(0.48,52),(0.54,48),(0.6,42),(0.66,38),(0.72,35),(0.78,32),(0.84,30),(0.9,30),(0.95,32)],
    [(0,68),(0.1,68),(0.2,65),(0.28,60),(0.34,55),(0.4,50),(0.46,45),(0.52,40),(0.58,36),(0.64,33),(0.7,30),(0.76,28),(0.82,25),(0.88,22)],
    [(0,60),(0.1,60),(0.18,58),(0.24,55),(0.3,50),(0.36,45),(0.42,40),(0.48,36),(0.54,32),(0.6,28),(0.66,25),(0.72,22),(0.78,20),(0.84,18)],
    [(0,43),(0.08,43),(0.16,42),(0.24,42),(0.3,38),(0.36,30),(0.42,22),(0.48,18),(0.54,16),(0.6,14),(0.66,12),(0.72,10),(0.76,9)],
    [(0,35),(0.08,35),(0.16,35),(0.24,34),(0.3,30),(0.36,25),(0.42,20),(0.48,17),(0.54,15),(0.62,14)],
]

shekel_sigma_r3 = [
    [(0,152),(0.05,150),(0.1,148),(0.12,145),(0.17,143),(0.24,137),(0.28,130),(0.32,122),(0.33,112),(0.36,100),(0.4,88),(0.44,78),(0.48,70),(0.52,60),(0.56,52),(0.6,45),(0.65,40),(0.7,35),(0.75,30),(0.8,25),(0.85,22),(0.9,18),(0.95,14),(1.0,12)],
    [(0,145),(0.04,140),(0.08,132),(0.12,120),(0.16,110),(0.2,102),(0.25,92),(0.3,82),(0.35,72),(0.4,62),(0.45,52),(0.5,44),(0.55,38),(0.6,32),(0.65,26),(0.7,20),(0.75,15),(0.8,10),(0.85,8)],
    [(0,140),(0.05,135),(0.1,125),(0.15,115),(0.2,105),(0.25,98),(0.3,90),(0.35,80),(0.4,70),(0.45,60),(0.5,50),(0.55,42),(0.6,35),(0.65,28),(0.7,22),(0.75,18),(0.8,15),(0.85,12),(0.9,10)],
    [(0,137),(0.05,132),(0.1,128),(0.15,118),(0.2,108),(0.25,95),(0.3,82),(0.35,70),(0.4,58),(0.45,48),(0.5,40),(0.55,34),(0.6,28),(0.65,24),(0.7,20),(0.75,16),(0.8,14),(0.85,12),(0.9,10),(0.95,8)],
    [(0,133),(0.05,130),(0.1,125),(0.15,120),(0.2,115),(0.25,108),(0.3,100),(0.35,90),(0.4,80),(0.45,72),(0.5,65),(0.55,60),(0.6,56),(0.65,55),(0.7,55),(0.74,53)],
    [(0,128),(0.05,124),(0.1,120),(0.15,112),(0.2,105),(0.25,98),(0.3,90),(0.35,82),(0.4,74),(0.45,66),(0.5,60),(0.55,54),(0.6,50),(0.65,48),(0.7,48),(0.72,48)],
    [(0,125),(0.05,122),(0.1,118),(0.15,110),(0.2,100),(0.25,90),(0.3,80),(0.35,70),(0.4,60),(0.45,50),(0.5,42),(0.55,36),(0.6,30),(0.65,25),(0.7,20),(0.75,16),(0.8,12),(0.85,10),(0.9,8),(0.95,7),(0.99,6)],
    [(0,120),(0.05,112),(0.1,105),(0.15,98),(0.2,90),(0.25,82),(0.3,74),(0.35,66),(0.4,58),(0.45,50),(0.5,42),(0.55,36),(0.6,30),(0.65,25),(0.7,20),(0.75,16),(0.8,13),(0.86,11)],
    [(0,115),(0.05,112),(0.1,108),(0.15,100),(0.2,92),(0.25,84),(0.3,76),(0.35,68),(0.4,60),(0.45,52),(0.5,45),(0.55,38),(0.6,33),(0.65,28),(0.7,24),(0.75,20),(0.8,18),(0.85,16),(0.9,14),(0.95,13),(0.99,12)],
    [(0,110),(0.05,108),(0.1,104),(0.15,98),(0.2,92),(0.25,85),(0.3,78),(0.35,70),(0.4,62),(0.45,55),(0.5,48),(0.55,42),(0.6,36),(0.65,30),(0.7,26),(0.75,22),(0.8,20),(0.85,18),(0.9,17),(0.95,16),(1.0,15)],
    [(0,108),(0.05,104),(0.1,98),(0.15,92),(0.2,85),(0.25,76),(0.3,68),(0.35,60),(0.4,52),(0.45,45),(0.5,38),(0.55,32),(0.6,27),(0.65,23),(0.7,20),(0.75,17),(0.8,14),(0.85,12),(0.9,10)],
    [(0,100),(0.06,96),(0.12,90),(0.18,84),(0.24,76),(0.3,68),(0.36,60),(0.42,52),(0.48,45),(0.54,38),(0.6,32),(0.66,27),(0.72,22),(0.78,18),(0.84,15),(0.9,12),(0.96,10)],
    [(0,87),(0.06,84),(0.12,80),(0.18,76),(0.24,70),(0.3,62),(0.36,55),(0.42,48),(0.48,42),(0.54,36),(0.6,31),(0.66,27),(0.72,24),(0.78,21),(0.84,19),(0.9,17),(0.95,16)],
    [(0,85),(0.06,82),(0.12,76),(0.18,70),(0.24,62),(0.3,55),(0.36,48),(0.42,42),(0.48,36),(0.54,32),(0.6,28),(0.66,25),(0.72,22),(0.78,20),(0.84,18),(0.9,16),(0.94,20),(0.98,18)],
    [(0,53),(0.04,50),(0.08,43),(0.1,37),(0.15,27),(0.23,22),(0.33,15),(0.4,13),(0.5,11),(0.6,10),(0.7,10),(0.75,10)],
]
algae_sigma_r3 = [
    [(0,105),(0.05,105),(0.1,104),(0.15,102),(0.2,100),(0.25,98),(0.3,95),(0.35,90),(0.4,85),(0.45,80),(0.5,75),(0.55,70),(0.6,65),(0.65,60),(0.7,55),(0.75,52),(0.8,48),(0.85,45),(0.88,42)],
    [(0,100),(0.06,100),(0.12,98),(0.18,95),(0.24,92),(0.3,88),(0.36,84),(0.42,80),(0.47,80),(0.5,70),(0.55,62),(0.6,58),(0.65,55),(0.7,50),(0.75,45),(0.8,40),(0.85,35),(0.9,30),(0.95,27),(1.0,25)],
    [(0,100),(0.08,98),(0.16,95),(0.22,90),(0.28,82),(0.34,72),(0.4,65),(0.46,60),(0.52,56),(0.58,52),(0.64,48),(0.7,42),(0.76,36),(0.82,30),(0.88,25),(0.94,22)],
    [(0,95),(0.08,95),(0.16,93),(0.24,90),(0.3,86),(0.36,82),(0.42,76),(0.48,70),(0.54,64),(0.58,62),(0.6,66),(0.64,62),(0.7,55),(0.76,48),(0.82,42),(0.88,36),(0.94,30),(0.98,25)],
    [(0,90),(0.08,90),(0.16,88),(0.24,84),(0.3,80),(0.36,74),(0.42,68),(0.48,62),(0.54,56),(0.6,50),(0.66,45),(0.72,40),(0.78,35),(0.84,30),(0.9,26),(0.96,22)],
    [(0,85),(0.08,84),(0.16,82),(0.2,80),(0.24,68),(0.3,62),(0.36,58),(0.42,55),(0.48,50),(0.54,45),(0.6,40),(0.66,35),(0.72,30),(0.78,26),(0.84,23),(0.9,22),(0.95,24),(1.0,22)],
    [(0,80),(0.08,80),(0.16,78),(0.24,75),(0.3,70),(0.36,65),(0.42,60),(0.48,55),(0.54,50),(0.6,46),(0.66,42),(0.72,38),(0.78,34),(0.84,30),(0.9,28)],
    [(0,76),(0.1,76),(0.2,74),(0.28,70),(0.34,64),(0.4,58),(0.46,52),(0.52,46),(0.58,40),(0.64,35),(0.7,30),(0.76,26),(0.82,22),(0.88,20),(0.94,18)],
    [(0,67),(0.1,67),(0.14,67),(0.16,48),(0.2,45),(0.26,40),(0.32,36),(0.38,32),(0.44,30),(0.5,28),(0.56,26),(0.62,24),(0.68,22),(0.74,20),(0.8,18)],
    [(0,56),(0.08,56),(0.16,56),(0.22,55),(0.26,45),(0.3,40),(0.36,38),(0.42,35),(0.48,32),(0.54,30),(0.6,28),(0.66,25),(0.72,22),(0.78,20),(0.84,18),(0.9,16)],
    [(0,55),(0.1,55),(0.18,54),(0.24,50),(0.3,45),(0.36,40),(0.42,35),(0.48,30),(0.54,25),(0.6,20),(0.66,16),(0.72,14),(0.78,12)],
]

series_names = ["Shekel", "Algae bloom"]
column_titles = ["Reward type: Δ<i>μ</i>", "Reward type: Δ<i>σ</i>"]
x_ticks = [0, 0.25, 0.5, 0.75, 1.0]

# colour (rgb) and line alpha for each reward type column: (Shekel, Algae bloom)
column_colors = [((255, 0, 0), (139, 0, 0)), ((0, 0, 255), (60, 190, 240))]
column_alpha = [(0.26, 0.2), (0.24, 0.26)]

panels = [
    # (row, col, shekel lines, algae lines, y range, y tick step)
    (1, 1, shekel_mu_r1, algae_mu_r1, [-1, 253], 100),
    (1, 2, shekel_sigma_r1, algae_sigma_r1, [3, 254], 100),
    (2, 1, shekel_mu_r2, algae_mu_r2, [-8, 233], 100),
    (2, 2, shekel_sigma_r2, algae_sigma_r2, [-7, 233], 100),
    (3, 1, shekel_mu_r3, algae_mu_r3, [-4, 157.5], 50),
    (3, 2, shekel_sigma_r3, algae_sigma_r3, [-3, 156], 50),
]

W, H = 861, 732
col_px = [(88, 435), (511, 859)]
row_px = [(39, 213), (267, 443), (495, 671)]
TXT = "#262626"
FONT = "Liberation Sans, Arial, sans-serif"
TICK_SIZE, LABEL_SIZE, TITLE_SIZE = 20.5, 21, 23.5


def rgba(c, a):
    return f"rgba({c[0]},{c[1]},{c[2]},{a})"


fig = go.Figure()
layout = {}

for i, (r, c, shek, alg, yr, dt) in enumerate(panels, start=1):
    xa = "x" if i == 1 else f"x{i}"
    ya = "y" if i == 1 else f"y{i}"
    for k, lines in enumerate((shek, alg)):
        col = column_colors[c - 1][k]
        a = column_alpha[c - 1][k]
        for pts in lines:
            fig.add_trace(go.Scatter(
                x=[p[0] for p in pts], y=[p[1] for p in pts],
                mode="lines+markers", xaxis=xa, yaxis=ya, showlegend=False,
                line=dict(color=rgba(col, a), width=4.5),
                marker=dict(color=rgba(col, 0.45), size=3, line=dict(width=0)),
                hoverinfo="skip",
            ))
    x0, x1 = col_px[c - 1]
    t0, t1 = row_px[r - 1]
    axis_common = dict(
        showgrid=True, gridcolor="white", gridwidth=1.5, zeroline=False,
        showline=False, ticks="", tickfont=dict(size=TICK_SIZE, color=TXT, family=FONT),
    )
    layout["xaxis" if i == 1 else f"xaxis{i}"] = dict(
        axis_common, domain=[x0 / W, x1 / W], anchor=ya, range=[-0.05, 1.05],
        tickvals=x_ticks, tickformat=".2f", ticklabelstandoff=4,
    )
    layout["yaxis" if i == 1 else f"yaxis{i}"] = dict(
        axis_common, domain=[1 - t1 / H, 1 - t0 / H], anchor=xa, range=yr,
        dtick=dt, tick0=0, ticklabelstandoff=4,
    )

annotations = []
for c in (0, 1):
    cx = (col_px[c][0] + col_px[c][1]) / 2 / W
    annotations.append(dict(text=column_titles[c], x=cx, y=1 - 19 / H, xref="paper", yref="paper",
                            showarrow=False, font=dict(size=TITLE_SIZE, color=TXT, family=FONT),
                            xanchor="center", yanchor="middle"))
    annotations.append(dict(text="Accumulated Reward (norm.)", x=cx, y=1 - 716 / H, xref="paper",
                            yref="paper", showarrow=False, font=dict(size=LABEL_SIZE, color=TXT, family=FONT),
                            xanchor="center", yanchor="middle"))
for r in range(3):
    cy = 1 - (row_px[r][0] + row_px[r][1]) / 2 / H
    annotations.append(dict(text="SoR <i>μ</i>", x=22 / W, y=cy, xref="paper", yref="paper",
                            showarrow=False, textangle=-90, font=dict(size=LABEL_SIZE, color=TXT, family=FONT),
                            xanchor="center", yanchor="middle"))

# legends in the top row
shapes = []
legend_rows = [65, 93]
legend_x = [(240, 285), (663, 708)]
for c in (0, 1):
    for k, name in enumerate(series_names):
        col = column_colors[c][k]
        yk = 1 - legend_rows[k] / H
        shapes.append(dict(type="line", xref="paper", yref="paper",
                           x0=legend_x[c][0] / W, x1=legend_x[c][1] / W, y0=yk, y1=yk,
                           line=dict(color=rgba(col, 0.3), width=4.5)))
        annotations.append(dict(text=name, x=(legend_x[c][1] + 16) / W, y=yk, xref="paper",
                                yref="paper", showarrow=False, xanchor="left", yanchor="middle",
                                font=dict(size=TICK_SIZE, color=TXT, family=FONT)))

fig.update_layout(
    width=W, height=H, margin=dict(l=0, r=0, t=0, b=0),
    paper_bgcolor="white", plot_bgcolor="#EAEAF2",
    annotations=annotations, shapes=shapes,
    font=dict(family=FONT, color=TXT), **layout,
)

fig.write_html("out.html")
